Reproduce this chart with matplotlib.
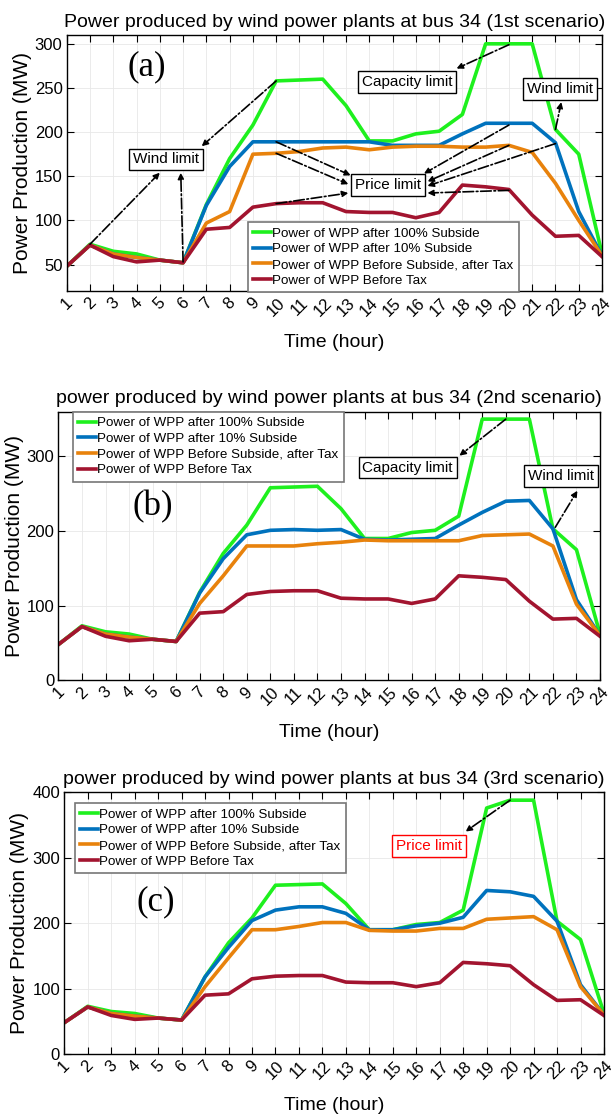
import numpy as np
import matplotlib.pyplot as plt

plt.rcParams['font.family'] = ['Liberation Sans', 'DejaVu Sans']

hours = list(range(1, 25))
labels = ['Power of WPP after 100% Subside', 'Power of WPP after 10% Subside',
          'Power of WPP Before Subside, after Tax', 'Power of WPP Before Tax']
colors = ['#1EF01E', '#0072BD', '#E8820C', '#A2142F']

# scenario 1
green_a = [48, 73, 65, 62, 55, 52, 118, 170, 208, 258, 259, 260, 230, 190, 190, 198, 201, 220, 300, 300, 300, 203, 175, 62]
blue_a = [48, 72, 62, 58, 55, 52, 117, 161, 189, 189, 189, 189, 189, 189, 185, 185, 185, 198, 210, 210, 210, 188, 110, 60]
orange_a = [48, 72, 62, 58, 55, 52, 97, 110, 175, 176, 178, 182, 183, 180, 183, 184, 184, 183, 183, 185, 177, 142, 100, 60]
red_a = [48, 72, 59, 53, 55, 52, 90, 92, 115, 119, 120, 120, 110, 109, 109, 103, 109, 140, 138, 135, 106, 82, 83, 59]

# scenario 2
green_b = [48, 73, 65, 62, 55, 52, 118, 170, 208, 258, 259, 260, 230, 190, 190, 198, 201, 220, 350, 350, 350, 203, 175, 62]
blue_b = [48, 72, 62, 58, 55, 52, 117, 163, 195, 201, 202, 201, 202, 189, 188, 189, 190, 208, 225, 240, 241, 203, 108, 60]
orange_b = [48, 72, 62, 58, 55, 52, 103, 140, 180, 180, 180, 183, 185, 188, 187, 187, 187, 187, 194, 195, 196, 180, 102, 60]
red_b = red_a

# scenario 3
green_c = [48, 73, 65, 62, 55, 52, 118, 170, 208, 258, 259, 260, 230, 190, 190, 198, 201, 220, 376, 388, 388, 203, 175, 62]
blue_c = [48, 72, 62, 58, 55, 52, 118, 163, 204, 220, 225, 225, 215, 190, 190, 196, 200, 209, 250, 248, 241, 203, 106, 60]
orange_c = [48, 72, 62, 58, 55, 52, 103, 147, 190, 190, 195, 201, 201, 189, 188, 188, 192, 192, 206, 208, 210, 190, 103, 60]
red_c = red_a

titles = ['Power produced by wind power plants at bus 34 (1st scenario)',
          'power produced by wind power plants at bus 34 (2nd scenario)',
          'power produced by wind power plants at bus 34 (3rd scenario)']
tags = ['(a)', '(b)', '(c)']

# annotation boxes: (text, x, y, colour)
boxes_a = [('Capacity limit', 15.62, 257, 'black'), ('Wind limit', 22.2, 249, 'black'),
           ('Wind limit', 5.27, 169, 'black'), ('Price limit', 14.8, 140, 'black')]
boxes_b = [('Capacity limit', 15.83, 285, 'black'), ('Wind limit', 22.34, 274, 'black')]
boxes_c = [('Price limit', 16.54, 318, 'red')]

# arrows: (from x, from y, to x, to y)
arrows_a = [(2, 73, 5, 154), (6, 53, 5.9, 154), (10, 258, 6.8, 184), (20, 299, 17.75, 272),
            (22, 203, 22.25, 234), (10, 189, 13.2, 151), (10, 176, 13.1, 141), (10, 119, 13.1, 131),
            (20, 208, 16.35, 153), (20, 185, 16.5, 144), (22, 187, 16.5, 139), (20, 134, 16.5, 131)]
arrows_b = [(20, 350, 18.03, 301), (22.1, 205, 23.04, 254)]
arrows_c = [(20, 388, 18.1, 340)]

fig = plt.figure(figsize=(6.11, 11.18), dpi=100)
axes = [fig.add_axes([0.1092, 0.7397, 0.8761, 0.2290]),
        fig.add_axes([0.0956, 0.3915, 0.8864, 0.2403]),
        fig.add_axes([0.1052, 0.0572, 0.8833, 0.2341])]

series = [(green_a, blue_a, orange_a, red_a),
          (green_b, blue_b, orange_b, red_b),
          (green_c, blue_c, orange_c, red_c)]
ylims = [(20, 310), (0, 360), (0, 400)]
yticks = [np.arange(50, 301, 50), np.arange(0, 301, 100), np.arange(0, 401, 100)]
tag_pos = [(4.46, 274), (5.0, 232), (4.9, 232)]
leg_anchor = [(0.3387, 0.2695), (0.0268, 1.0), (0.0198, 0.959)]
all_boxes = [boxes_a, boxes_b, boxes_c]
all_arrows = [arrows_a, arrows_b, arrows_c]

for i, ax in enumerate(axes):
    for vals, c, lab in zip(series[i], colors, labels):
        ax.plot(hours, vals, color=c, lw=2.6, label=lab)
    ax.set_xlim(1, 24)
    ax.set_ylim(*ylims[i])
    ax.set_xticks(hours)
    ax.set_xticklabels([str(h) for h in hours], rotation=45, fontsize=12)
    ax.set_yticks(yticks[i])
    ax.tick_params(axis='y', labelsize=12)
    ax.tick_params(direction='in', length=5, width=0.8, top=True, right=True, pad=3)
    ax.grid(True, color='#e8e8e8', lw=0.6)
    ax.set_axisbelow(True)
    for s in ax.spines.values():
        s.set_linewidth(1.0)
    ax.set_title(titles[i], fontsize=14, pad=6)
    ax.set_ylabel('Power Production (MW)', fontsize=15, labelpad=2)
    ax.set_xlabel('Time (hour)', fontsize=14, labelpad=11)
    leg = ax.legend(loc='upper left', bbox_to_anchor=leg_anchor[i], borderaxespad=0,
                    fontsize=9.6, handlelength=1.3, handletextpad=0.1, labelspacing=0.25,
                    borderpad=0.4, fancybox=False, framealpha=1, edgecolor='#777777')
    leg.get_frame().set_linewidth(1.2)
    ax.text(*tag_pos[i], tags[i], fontsize=25, family='Liberation Serif',
            ha='center', va='center')
    for txt, x, y, c in all_boxes[i]:
        ax.text(x, y, txt, fontsize=11, color=c, ha='center', va='center', zorder=6,
                bbox=dict(boxstyle='square,pad=0.25', fc='white', ec=c, lw=1.0))
    for x0, y0, x1, y1 in all_arrows[i]:
        ax.annotate('', xy=(x1, y1), xytext=(x0, y0), zorder=7,
                    arrowprops=dict(arrowstyle='-|>', linestyle='-.', lw=1.2, color='black',
                                    mutation_scale=9, shrinkA=0, shrinkB=0))

fig.savefig('out.png', dpi=100)
